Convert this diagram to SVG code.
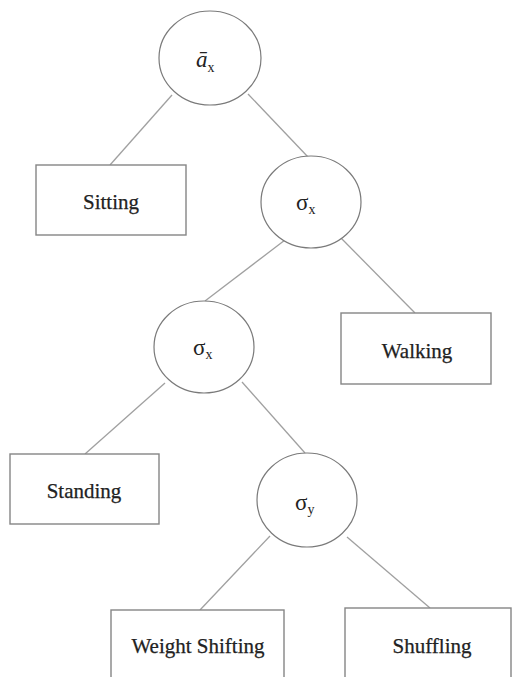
<svg xmlns="http://www.w3.org/2000/svg" width="514" height="677" viewBox="0 0 514 677">
<style>
.edge{stroke:#a0a0a0;stroke-width:1.3;fill:none}
.circ{fill:#fff;stroke:#7a7a7a;stroke-width:1.2}
.box{fill:#fff;stroke:#858585;stroke-width:1.4}
text{font-family:'Liberation Serif','Times New Roman',serif}
.lbl{font-size:21px;fill:#222;text-anchor:middle;stroke:#222;stroke-width:0.25}
.sym{font-size:23px;fill:#222}
.sub{font-size:14px}
</style>
<rect width="514" height="677" fill="#fff"/>
<g id="connectors">
<line class="edge" x1="172" y1="95" x2="110" y2="165"/>
<line class="edge" x1="248" y1="94" x2="308" y2="157"/>
<line class="edge" x1="285" y1="240" x2="205" y2="301"/>
<line class="edge" x1="340" y1="237" x2="415" y2="313"/>
<line class="edge" x1="165" y1="383" x2="85" y2="454"/>
<line class="edge" x1="242" y1="382" x2="305" y2="453"/>
<line class="edge" x1="270" y1="536" x2="200" y2="610"/>
<line class="edge" x1="347" y1="537" x2="430" y2="608"/>
</g>
<g id="root">
<ellipse class="circ" cx="210" cy="58" rx="51" ry="47"/>
<text class="sym" x="196" y="67" font-family="Liberation Serif, serif"><tspan font-style="italic">ā</tspan><tspan class="sub" dy="5">x</tspan></text>
</g>
<g id="sitting">
<rect class="box" x="36" y="165" width="150" height="70"/>
<text class="lbl" x="111" y="209" font-family="Liberation Serif, serif">Sitting</text>
</g>
<g id="sigma_x1">
<ellipse class="circ" cx="311" cy="202" rx="50" ry="46"/>
<text class="sym" x="296" y="210" font-family="Liberation Serif, serif">σ<tspan class="sub" dy="4">x</tspan></text>
</g>
<g id="walking">
<rect class="box" x="341" y="313" width="150" height="71"/>
<text class="lbl" x="417" y="358" font-family="Liberation Serif, serif">Walking</text>
</g>
<g id="sigma_x2">
<ellipse class="circ" cx="204" cy="347" rx="50" ry="46"/>
<text class="sym" x="193" y="355" font-family="Liberation Serif, serif">σ<tspan class="sub" dy="4">x</tspan></text>
</g>
<g id="standing">
<rect class="box" x="10" y="454" width="149" height="70"/>
<text class="lbl" x="84" y="498" font-family="Liberation Serif, serif">Standing</text>
</g>
<g id="sigma_y">
<ellipse class="circ" cx="307" cy="500" rx="50" ry="47"/>
<text class="sym" x="295" y="510" font-family="Liberation Serif, serif">σ<tspan class="sub" dy="4">y</tspan></text>
</g>
<g id="weight_shifting">
<rect class="box" x="111" y="610" width="173" height="80"/>
<text class="lbl" x="198" y="653" font-family="Liberation Serif, serif">Weight Shifting</text>
</g>
<g id="shuffling">
<rect class="box" x="345" y="608" width="166" height="82"/>
<text class="lbl" x="432" y="653" font-family="Liberation Serif, serif">Shuffling</text>
</g>
</svg>
